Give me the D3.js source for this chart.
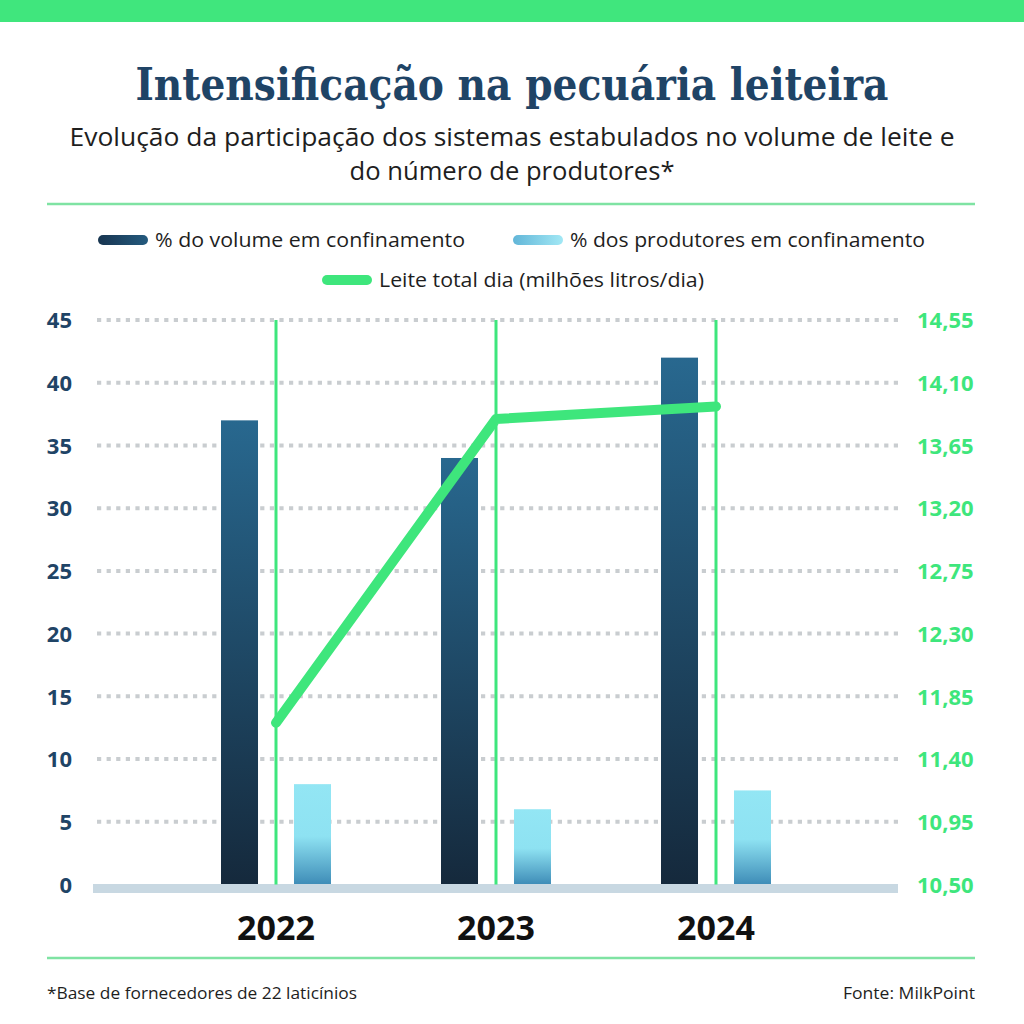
<!DOCTYPE html>
<html><head><meta charset="utf-8">
<script src="https://cdn.jsdelivr.net/npm/d3@7"></script>
<style>
html,body{margin:0;padding:0;background:#fff;}
svg{display:block;}
</style></head>
<body>
<svg id="chart" width="1024" height="1024"></svg>
<script>
const years = ["2022", "2023", "2024"];
const volumeConfinamento = [37, 34, 42];
const produtoresConfinamento = [8, 6, 7.5];
const leiteTotal = [11.66, 13.84, 13.93];
const leftTicks = [0, 5, 10, 15, 20, 25, 30, 35, 40, 45];
const rightTicks = [10.50, 10.95, 11.40, 11.85, 12.30, 12.75, 13.20, 13.65, 14.10, 14.55];
const seriesNames = ["% do volume em confinamento", "% dos produtores em confinamento", "Leite total dia (milhões litros/dia)"];

const GREEN = "#3ee67c", NAVY = "#1f4466";
const svg = d3.select("#chart");
const defs = svg.append("defs");

const gDark = defs.append("linearGradient").attr("id","gDark").attr("x1",0).attr("y1",0).attr("x2",0).attr("y2",1);
gDark.append("stop").attr("offset","0%").attr("stop-color","#28688f");
gDark.append("stop").attr("offset","100%").attr("stop-color","#15293c");
const gLight = defs.append("linearGradient").attr("id","gLight").attr("x1",0).attr("y1",0).attr("x2",0).attr("y2",1);
gLight.append("stop").attr("offset","0%").attr("stop-color","#93e6f4");
gLight.append("stop").attr("offset","52%").attr("stop-color","#8ee2f2");
gLight.append("stop").attr("offset","100%").attr("stop-color","#3e8cb7");
const lgDark = defs.append("linearGradient").attr("id","lgDark");
lgDark.append("stop").attr("offset","0%").attr("stop-color","#183550");
lgDark.append("stop").attr("offset","100%").attr("stop-color","#245a7e");
const lgLight = defs.append("linearGradient").attr("id","lgLight");
lgLight.append("stop").attr("offset","0%").attr("stop-color","#62b6d8");
lgLight.append("stop").attr("offset","100%").attr("stop-color","#a2e8f5");

// top band
svg.append("rect").attr("x",0).attr("y",0).attr("width",1024).attr("height",22).attr("fill","#40e67d");

// title
svg.append("text").attr("x",512).attr("y",100).attr("text-anchor","middle")
  .attr("font-family","'DejaVu Serif', 'Liberation Serif', serif").attr("font-weight","bold")
  .attr("font-size",45).attr("fill",NAVY)
  .attr("textLength",753).attr("lengthAdjust","spacingAndGlyphs")
  .text("Intensificação na pecuária leiteira");

const sub = [["Evolução da participação dos sistemas estabulados no volume de leite e", 146, 885],
             ["do número de produtores*", 180, 325]];
sub.forEach(([t,y,w]) => svg.append("text").attr("x",512).attr("y",y).attr("text-anchor","middle")
  .attr("font-family","'Open Sans', sans-serif").attr("font-size",26).attr("fill","#1e1e1e")
  .attr("textLength",w).attr("lengthAdjust","spacingAndGlyphs").text(t));

// separators
[204, 958].forEach(y => svg.append("line").attr("x1",47).attr("x2",975).attr("y1",y).attr("y2",y)
  .attr("stroke","#7fe3a3").attr("stroke-width",2.5));

// legend
const legend = [
  {name: seriesNames[0], fill:"url(#lgDark)", sx:98, ty:240, w:310},
  {name: seriesNames[1], fill:"url(#lgLight)", sx:513, ty:240, w:355},
  {name: seriesNames[2], fill:GREEN, sx:322, ty:280, w:325}
];
legend.forEach(l => {
  svg.append("rect").attr("x",l.sx).attr("y",l.ty-5).attr("width",50).attr("height",10).attr("rx",5).attr("fill",l.fill);
  svg.append("text").attr("x",l.sx+57).attr("y",l.ty+7).attr("font-family","'Open Sans', sans-serif")
    .attr("font-size",20).attr("fill","#1e1e1e").attr("textLength",l.w).attr("lengthAdjust","spacingAndGlyphs").text(l.name);
});

// scales
const x = d3.scaleBand().domain(years).range([166, 826]).padding(0);
const xSub = d3.scaleBand().domain(["vol","prod"]).range([-55, 55]).paddingInner(0.493).paddingOuter(0);
const yL = d3.scaleLinear().domain([0, 45]).range([884.5, 320]);
const yR = d3.scaleLinear().domain([10.5, 14.55]).range([884.5, 320]);
const cx = d => x(d) + x.bandwidth()/2;

// grid
svg.append("g").selectAll("line").data(leftTicks.filter(d => d > 0)).join("line")
  .attr("x1",97).attr("x2",898).attr("y1",d=>yL(d)).attr("y2",d=>yL(d))
  .attr("stroke","#c9cdd0").attr("stroke-width",4).attr("stroke-dasharray","4.2,5.4");

// bars
const gb = svg.append("g");
gb.selectAll("rect.vol").data(years).join("rect").attr("class","vol")
  .attr("x", d => cx(d) + xSub("vol")).attr("width", xSub.bandwidth())
  .attr("y", (d,i) => yL(volumeConfinamento[i])).attr("height", (d,i) => yL(0) - yL(volumeConfinamento[i]))
  .attr("fill","url(#gDark)");
gb.selectAll("rect.prod").data(years).join("rect").attr("class","prod")
  .attr("x", d => cx(d) + xSub("prod")).attr("width", xSub.bandwidth())
  .attr("y", (d,i) => yL(produtoresConfinamento[i])).attr("height", (d,i) => yL(0) - yL(produtoresConfinamento[i]))
  .attr("fill","url(#gLight)");

// baseline
svg.append("rect").attr("x",93).attr("y",yL(0)-0.5).attr("width",805).attr("height",9).attr("fill","#c8d8e2");

// vertical green lines
svg.append("g").selectAll("line").data(years).join("line")
  .attr("x1",cx).attr("x2",cx).attr("y1",yL(45)).attr("y2",yL(0))
  .attr("stroke",GREEN).attr("stroke-width",3);

// line series
const line = d3.line().x((d,i) => cx(years[i])).y(d => yR(d));
svg.append("path").datum(leiteTotal).attr("d",line).attr("fill","none")
  .attr("stroke",GREEN).attr("stroke-width",10).attr("stroke-linecap","round").attr("stroke-linejoin","round");

// left axis
const axL = svg.append("g").attr("transform","translate(72,0)")
  .call(d3.axisLeft(yL).tickValues(leftTicks).tickSize(0).tickPadding(0));
axL.select(".domain").remove();
axL.selectAll("text").attr("font-family","'Noto Sans', sans-serif").attr("font-weight","bold")
  .attr("font-size",22).attr("fill",NAVY).attr("dy","0.35em");

// right axis
const loc = d3.formatLocale({decimal:",", thousands:".", grouping:[3], currency:["R$",""]});
const axR = svg.append("g").attr("transform","translate(917,0)")
  .call(d3.axisRight(yR).tickValues(rightTicks).tickFormat(loc.format(".2f")).tickSize(0).tickPadding(0));
axR.select(".domain").remove();
axR.selectAll("text").attr("font-family","'Noto Sans', sans-serif").attr("font-weight","bold")
  .attr("font-size",22).attr("fill",GREEN).attr("dy","0.35em");

// x axis labels
const axX = svg.append("g").attr("transform","translate(0,928)")
  .call(d3.axisBottom(x).tickSize(0).tickPadding(0));
axX.select(".domain").remove();
axX.selectAll("text").attr("font-family","'Noto Sans', sans-serif").attr("font-weight","bold")
  .attr("font-size",34).attr("fill","#111").attr("dy","0.35em");

// footer
svg.append("text").attr("x",47).attr("y",999).attr("font-family","'Open Sans', sans-serif").attr("font-size",17)
  .attr("fill","#1e1e1e").attr("textLength",310).attr("lengthAdjust","spacingAndGlyphs").text("*Base de fornecedores de 22 laticínios");
svg.append("text").attr("x",975).attr("y",999).attr("text-anchor","end").attr("font-family","'Open Sans', sans-serif").attr("font-size",17)
  .attr("fill","#1e1e1e").attr("textLength",132).attr("lengthAdjust","spacingAndGlyphs").text("Fonte: MilkPoint");
</script>
</body></html>
